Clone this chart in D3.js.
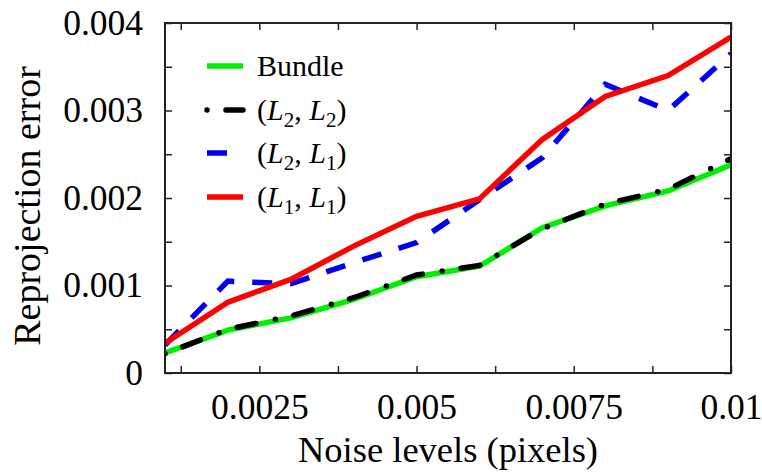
<!DOCTYPE html>
<head>
	<meta charset="utf-8">
	<style>
		body { margin: 0; background: white; }
		svg { font-family: "Liberation Serif", serif; }
		.axis line { stroke: #222; stroke-width: 1.5; }
		.axis path { display: none; }
		.legend text { font-size: 30px; }
	</style>
</head>
<body>
	<svg width="762" height="475"></svg>
	<script src="https://d3js.org/d3.v7.min.js"></script>
	<script>
		// noise levels along x
		var noise = [0.001, 0.002, 0.003, 0.004, 0.005, 0.006, 0.007, 0.008, 0.009, 0.01];
		var bundle = [0.00023, 0.00049, 0.00063, 0.00084, 0.0011, 0.00122, 0.00166, 0.00191, 0.00208, 0.00238];
		var l2l2 = [0.00022, 0.0005, 0.00065, 0.00086, 0.00112, 0.00123, 0.00165, 0.00193, 0.0021, 0.00245];
		var l2l1 = [0.00032, 0.00105, 0.00102, 0.00126, 0.00149, 0.00198, 0.00246, 0.0033, 0.003, 0.00365];
		var l1l1 = [0.00034, 0.00081, 0.00107, 0.00145, 0.00179, 0.00199, 0.00267, 0.00316, 0.0034, 0.00384];

		var xTicks = [0.00125, 0.0025, 0.00375, 0.005, 0.00625, 0.0075, 0.00875, 0.01];
		var xLabels = ["0.0025", "0.005", "0.0075", "0.01"];
		var yTicks = [0, 0.0005, 0.001, 0.0015, 0.002, 0.0025, 0.003, 0.0035, 0.004];
		var yLabels = ["0", "0.001", "0.002", "0.003", "0.004"];

		var svg = d3.select("svg"),
			margin = { top: 23, right: 31, bottom: 102, left: 165 },
			width = 762 - margin.left - margin.right,
			height = 475 - margin.top - margin.bottom,
			g = svg.append("g").attr("transform", "translate(" + margin.left + "," + margin.top + ")");

		var x = d3.scaleLinear().domain([0.001, 0.01]).range([0, width]);
		var y = d3.scaleLinear().domain([0, 0.004]).range([height, 0]);

		function xFmt(d) {
			var s = xLabels.find(function (l) { return Math.abs(+l - d) < 1e-9; });
			return s || "";
		}
		function yFmt(d) {
			var s = yLabels.find(function (l) { return Math.abs(+l - d) < 1e-9; });
			return s || "";
		}

		var axes = [
			g.append("g").attr("transform", "translate(0," + height + ")")
				.call(d3.axisBottom(x).tickValues(xTicks).tickSize(-7).tickPadding(21).tickFormat(xFmt)),
			g.append("g")
				.call(d3.axisTop(x).tickValues(xTicks).tickSize(-7).tickFormat("")),
			g.append("g")
				.call(d3.axisLeft(y).tickValues(yTicks).tickSize(-7).tickPadding(22).tickFormat(yFmt)),
			g.append("g").attr("transform", "translate(" + width + ",0)")
				.call(d3.axisRight(y).tickValues(yTicks).tickSize(-7).tickFormat(""))
		];
		axes.forEach(function (a) {
			a.attr("class", "axis")
				.attr("font-family", "Liberation Serif")
				.attr("font-size", 35.5);
			a.selectAll("text").attr("fill", "black");
		});

		g.append("defs").append("clipPath").attr("id", "clip")
			.append("rect").attr("width", width).attr("height", height);

		var line = d3.line()
			.x(function (d, i) { return x(noise[i]); })
			.y(function (d) { return y(d); });

		var series = [
			{ name: "Bundle", values: bundle, color: "#00ee00", dash: null, cap: "butt" },
			{ name: "L2L2", values: l2l2, color: "black", dash: "0,19,19,20", cap: "round" },
			{ name: "L2L1", values: l2l1, color: "#0000ee", dash: "20,18", cap: "butt" },
			{ name: "L1L1", values: l1l1, color: "#ff0000", dash: null, cap: "butt" }
		];

		var plot = g.append("g").attr("clip-path", "url(#clip)");
		series.forEach(function (s) {
			plot.append("path")
				.datum(s.values)
				.attr("d", line)
				.attr("fill", "none")
				.attr("stroke", s.color)
				.attr("stroke-width", 5.5)
				.attr("stroke-linejoin", "miter")
				.attr("stroke-linecap", s.cap)
				.attr("stroke-dasharray", s.dash);
		});

		g.append("rect")
			.attr("width", width).attr("height", height)
			.attr("fill", "none").attr("stroke", "#222").attr("stroke-width", 2);

		// legend
		var leg = svg.append("g").attr("class", "legend");
		var rows = [66, 110, 153, 197];
		series.forEach(function (s, i) {
			leg.append("line")
				.attr("x1", 207).attr("x2", 243)
				.attr("y1", rows[i]).attr("y2", rows[i])
				.attr("stroke", s.color)
				.attr("stroke-width", 5.5)
				.attr("stroke-linecap", s.cap)
				.attr("stroke-dasharray", s.dash);
		});
		var labels = [
			[["Bundle", ""]],
			[["(", ""], ["L", "i"], ["2", "s"], [", ", ""], ["L", "i"], ["2", "s"], [")", ""]],
			[["(", ""], ["L", "i"], ["2", "s"], [", ", ""], ["L", "i"], ["1", "s"], [")", ""]],
			[["(", ""], ["L", "i"], ["1", "s"], [", ", ""], ["L", "i"], ["1", "s"], [")", ""]]
		];
		labels.forEach(function (parts, i) {
			var t = leg.append("text").attr("x", 257).attr("y", rows[i] + 10);
			var prevSub = false;
			parts.forEach(function (p) {
				var ts = t.append("tspan").text(p[0]);
				if (p[1] === "i") ts.attr("font-style", "italic");
				if (p[1] === "s") { ts.attr("font-size", "21px").attr("dy", 7); prevSub = true; }
				else if (prevSub) { ts.attr("dy", -7); prevSub = false; }
			});
		});

		// axis titles
		svg.append("text")
			.attr("x", (margin.left + margin.left + width) / 2)
			.attr("y", 462)
			.attr("text-anchor", "middle")
			.attr("font-size", 36.5)
			.text("Noise levels (pixels)");
		svg.append("text")
			.attr("transform", "translate(40," + 206 + ") rotate(-90)")
			.attr("text-anchor", "middle")
			.attr("font-size", 38)
			.text("Reprojection error");
	</script>
</body>
